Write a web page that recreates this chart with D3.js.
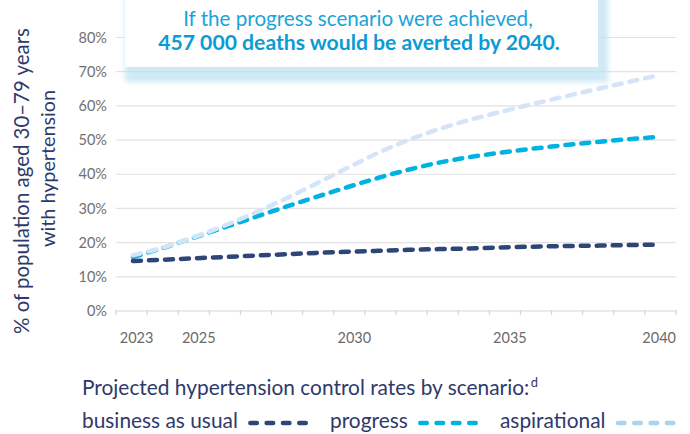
<!DOCTYPE html>
<html><head><meta charset="utf-8">
<script src="https://cdn.jsdelivr.net/npm/d3@7"></script>
<style>body{margin:0;background:#fff}svg{display:block;font-family:Lato,'Noto Sans',sans-serif}</style>
</head><body><svg id="c" width="690" height="434"></svg>
<script>
// ---- data ----
const years = [2023,2024,2025,2026,2027,2028,2029,2030,2031,2032,2033,2034,2035,2036,2037,2038,2039,2040];
const businessAsUsual = [14.6,15.0,15.4,15.8,16.2,16.6,17.0,17.3,17.6,17.9,18.1,18.3,18.6,18.8,19.0,19.1,19.25,19.4];
const progress =        [15.8,18.5,21.5,24.5,27.5,30.5,33.4,36.2,38.9,41.3,43.4,45.0,46.3,47.4,48.4,49.3,50.1,50.8];
const aspirational =    [16.3,18.6,21.6,25.0,28.8,32.9,37.3,41.8,46.2,50.0,53.2,55.9,58.2,60.4,62.5,64.6,66.6,68.6];
const yTicks = [0,10,20,30,40,50,60,70,80];
const xTickLabels = [2023,2025,2030,2035,2040];
const seriesNames = ["business as usual","progress","aspirational"];
const yTitle = ["% of population aged 30\u201379 years","with hypertension"];
const noteLines = ["If the progress scenario were achieved,","457 000 deaths would be averted by 2040."];
const legendTitle = "Projected hypertension control rates by scenario:";

const colors = {"business as usual":"#2d4677","progress":"#00b2e2","aspirational":"#d3e5f6"};
const legendColors = {"business as usual":"#2d4677","progress":"#00b2e2","aspirational":"#a9d3ef"};
const seriesData = {"business as usual":businessAsUsual,"progress":progress,"aspirational":aspirational};

const svg = d3.select("#c");
const y = d3.scaleLinear().domain([0,80]).range([311,37.5]);
const xAxisScale = d3.scaleLinear().domain([2022.5,2040.5]).range([116,676]);
const xLine = d3.scaleLinear().domain([2023,2040]).range([133,653]);

function fit(sel, target){
  const n = sel.node(); const fs = parseFloat(sel.attr("font-size"));
  const w = n.getComputedTextLength(); if (w>0) sel.attr("font-size", fs*target/w);
  return parseFloat(sel.attr("font-size"));
}

// gridlines
svg.append("g").selectAll("line").data(yTicks).join("line")
  .attr("x1",116).attr("x2",676).attr("y1",d=>y(d)).attr("y2",d=>y(d))
  .attr("stroke",d=>d===0?"#d6d6d6":"#e2e2e2").attr("stroke-width",1.2);
// y tick labels
svg.append("g").selectAll("text").data(yTicks).join("text")
  .attr("x",107).attr("y",d=>y(d)).attr("dy","0.36em").attr("text-anchor","end")
  .attr("font-size",14.5).attr("fill","#707070").text(d=>d+"%");
// x tick marks
svg.append("g").selectAll("line").data(d3.range(2022.5,2041,1)).join("line")
  .attr("x1",d=>xAxisScale(d)).attr("x2",d=>xAxisScale(d)).attr("y1",y(0)-1).attr("y2",y(0)+4)
  .attr("stroke","#d6d6d6").attr("stroke-width",1.2);
// x labels
svg.append("g").selectAll("text").data(xTickLabels).join("text")
  .attr("x",(d,i)=> i===xTickLabels.length-1 ? 676 : xAxisScale(d)+5)
  .attr("text-anchor",(d,i)=> i===xTickLabels.length-1 ? "end":"middle")
  .attr("y",343).attr("font-size",14.5).attr("fill","#6a6a6a").text(d=>d);

// y title
const yt = svg.append("g").attr("transform","translate(0,178) rotate(-90)");
const yt1 = yt.append("text").attr("x",-3).attr("y",29).attr("text-anchor","middle").attr("font-size",20).attr("fill","#2e3a6b").text(yTitle[0]);
const yt2 = yt.append("text").attr("x",9.5).attr("y",55).attr("text-anchor","middle").attr("font-size",20).attr("fill","#2e3a6b").text(yTitle[1]);
fit(yt1,306); fit(yt2,157);

// annotation box with shadow
const defs = svg.append("defs");
const f = defs.append("filter").attr("id","blur").attr("x","-10%").attr("y","-30%").attr("width","120%").attr("height","160%");
f.append("feGaussianBlur").attr("stdDeviation",2.5);
svg.append("rect").attr("x",125).attr("y",-10).attr("width",483).attr("height",92)
  .attr("fill","#bfe2f2").attr("opacity",0.75).attr("filter","url(#blur)");
svg.append("rect").attr("x",125).attr("y",-10).attr("width",473).attr("height",77).attr("fill","#fff");
const n1 = svg.append("text").attr("x",358).attr("y",26).attr("text-anchor","middle").attr("font-size",19)
  .attr("fill","#1aa3da").text(noteLines[0]);
const n2 = svg.append("text").attr("x",359).attr("y",50).attr("text-anchor","middle").attr("font-size",19)
  .attr("font-weight","bold").attr("fill","#0a9bd6").text(noteLines[1]);
fit(n1,350); fit(n2,402);

// lines
const line = d3.line().x((d,i)=>xLine(years[i])).y(d=>y(d)).curve(d3.curveMonotoneX);
["progress","business as usual","aspirational"].forEach(k=>{
  svg.append("path").datum(seriesData[k]).attr("d",line).attr("fill","none")
    .attr("stroke",colors[k]).attr("stroke-width",4.5).attr("stroke-linecap","round")
    .attr("stroke-dasharray","8 8");
});

// legend
const legX = [82,330,500];
const items = seriesNames.map((k,i)=> svg.append("text").attr("x",legX[i]).attr("y",428).attr("font-size",18).attr("fill","#2e3a6b").text(k));
const lfs = fit(items[0],156);
items.forEach(t=>t.attr("font-size",lfs));
const lt = svg.append("text").attr("x",82).attr("y",395).attr("font-size",lfs).attr("fill","#2e3a6b");
lt.append("tspan").text(legendTitle);
lt.append("tspan").attr("font-size",lfs*0.62).attr("dy",-8).attr("dx",1.5).text("d");
items.forEach((t,i)=>{
  const k = seriesNames[i];
  const w = t.node().getComputedTextLength();
  const lx = legX[i]+w+12.5;
  svg.append("line").attr("x1",lx).attr("x2",lx+55.4).attr("y1",423).attr("y2",423)
    .attr("stroke",legendColors[k]).attr("stroke-width",4.5).attr("stroke-linecap","round").attr("stroke-dasharray","6.5 9.8");
});
</script></body></html>
